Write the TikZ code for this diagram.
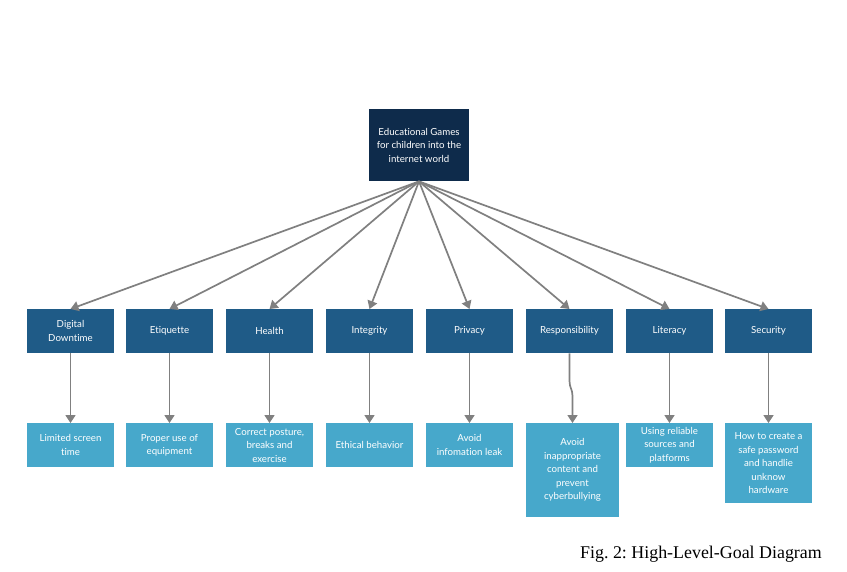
\documentclass[tikz,border=0pt]{standalone}
\usepackage{fontspec}
\setmainfont{Lato}[Ligatures={NoCommon}]
\newfontfamily\capfont{Liberation Serif}
\usetikzlibrary{arrows.meta}
\definecolor{topc}{HTML}{0E2B4B}
\definecolor{midc}{HTML}{1F5B87}
\definecolor{lowc}{HTML}{47A8CB}
\definecolor{arrc}{HTML}{808080}
\frenchspacing
\begin{document}
\begin{tikzpicture}[x=1pt,y=-1pt,
  box/.style={anchor=north, inner sep=0pt, align=center, text=white,
    font=\fontsize{9.7}{13.5}\selectfont, minimum width=87pt, minimum height=44pt},
  topbox/.style={box, fill=topc, minimum width=100pt, minimum height=72pt},
  midbox/.style={box, fill=midc},
  lowbox/.style={box, fill=lowc},
  conn/.style={draw=arrc, line width=1.7pt, -{Triangle[width=10pt,length=8pt]}}
]
\useasboundingbox (0,0) rectangle (847,571);
\fill[white] (0,0) rectangle (847,571);

\node[topbox] (top) at (419,109) {Educational Games\\for children into the\\internet world};

\node[midbox] (m1) at (70.5,309) {Digital\\Downtime};
\node[midbox] (m2) at (169.5,309) {Etiquette};
\node[midbox] (m3) at (269.5,309) {Health};
\node[midbox] (m4) at (369.5,309) {Integrity};
\node[midbox] (m5) at (469.5,309) {Privacy};
\node[midbox] (m6) at (569.5,309) {Responsibility};
\node[midbox] (m7) at (669.5,309) {Literacy};
\node[midbox] (m8) at (768.5,309) {Security};

\node[lowbox] (l1) at (70.5,423) {Limited screen\\time};
\node[lowbox] (l2) at (169.5,423) {Proper use of\\equipment};
\node[lowbox] (l3) at (269.5,423) {Correct posture,\\breaks and\\exercise};
\node[lowbox] (l4) at (369.5,423) {Ethical behavior};
\node[lowbox] (l5) at (469.5,423) {Avoid\\infomation leak};
\node[lowbox, minimum width=93pt, minimum height=94pt] (l6) at (572.5,423) {Avoid\\inappropriate\\content and\\prevent\\cyberbullying};
\node[lowbox] (l7) at (669.5,423) {Using reliable\\sources and\\platforms};
\node[lowbox, minimum height=80pt] (l8) at (768.5,423) {How to create a\\safe password\\and handlie\\unknow\\hardware};

\coordinate (tb) at (top.south);
\foreach \i in {1,...,8} {
  \draw[conn] (tb) -- (m\i.north);
}
\foreach \i in {1,2,3,4,5,7,8} {
  \draw[conn] (m\i.south) -- (l\i.north);
}
\coordinate (r1) at (569.5,381);
\coordinate (r2) at (572.5,396);
\draw[conn] (m6.south) -- (r1) .. controls (569.5,388) and (572.5,389) .. (r2) -- (l6.north);

\node[anchor=base east, inner sep=0pt, font=\capfont\fontsize{17.9}{20}\selectfont] (cap) at (822,558) {Fig. 2: High-Level-Goal Diagram};
\end{tikzpicture}
\end{document}
